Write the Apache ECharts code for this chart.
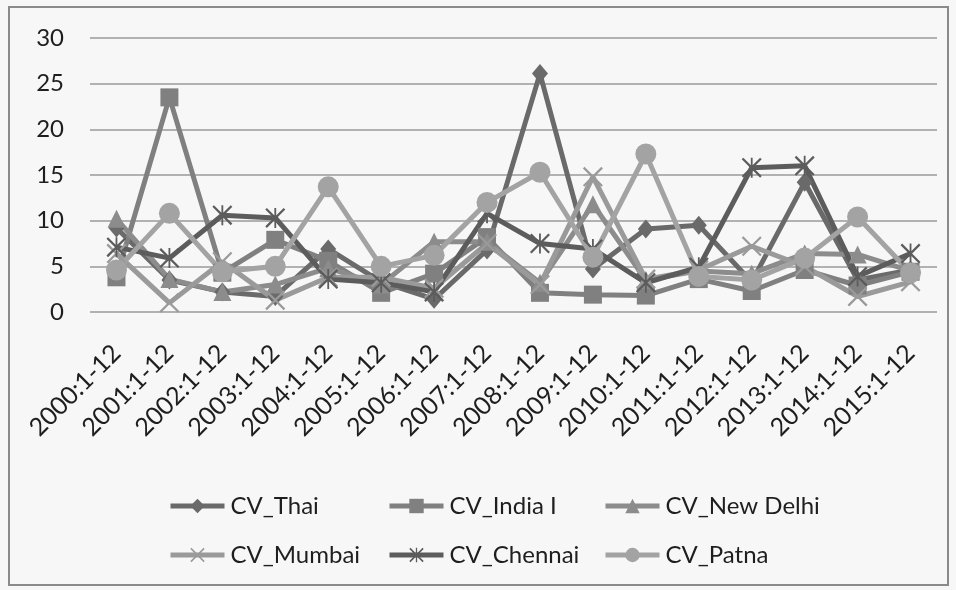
<!DOCTYPE html>
<html>
<head>
<meta charset="utf-8">
<style>
  html, body { margin: 0; padding: 0; background: #f7f7f7; }
  #chart { width: 956px; height: 590px; }
</style>
<script src="https://cdn.jsdelivr.net/npm/echarts@6/dist/echarts.min.js"></script>
</head>
<body>
<div id="chart"></div>
<script>
// ---- Data ----
var categories = ['2000:1-12','2001:1-12','2002:1-12','2003:1-12','2004:1-12','2005:1-12','2006:1-12','2007:1-12',
                  '2008:1-12','2009:1-12','2010:1-12','2011:1-12','2012:1-12','2013:1-12','2014:1-12','2015:1-12'];
var seriesNames = ['CV_Thai','CV_India I','CV_New Delhi','CV_Mumbai','CV_Chennai','CV_Patna'];
var cvThai     = [9.2, 3.5, 2.2, 1.7, 6.9, 3.3, 1.4, 6.8, 26.1, 4.7, 9.1, 9.5, 3.3, 14.2, 3.5, 4.6];
var cvIndia    = [3.8, 23.5, 4.3, 7.9, 5.6, 2.1, 4.2, 8.2, 2.1, 1.9, 1.8, 3.6, 2.3, 4.6, 2.9, 4.4];
var cvNewDelhi = [10.2, 3.6, 2.2, 3.0, 4.8, 3.0, 7.7, 7.7, 3.2, 11.8, 3.5, 4.5, 4.2, 6.4, 6.3, 4.5];
var cvMumbai   = [6.4, 1.0, 5.5, 1.3, 3.8, 3.8, 2.6, 7.5, 3.0, 14.8, 3.6, 4.6, 7.2, 5.0, 1.7, 3.3];
var cvChennai  = [7.1, 5.9, 10.6, 10.3, 3.6, 3.2, 2.2, 10.8, 7.5, 6.9, 3.2, 4.9, 15.8, 16.0, 3.9, 6.4];
var cvPatna    = [4.6, 10.8, 4.4, 5.0, 13.7, 5.0, 6.2, 12.0, 15.3, 6.0, 17.3, 3.9, 3.5, 5.9, 10.4, 4.3];
var yTicks = [0, 5, 10, 15, 20, 25, 30];

// ---- Styles ----
var FONT = 'Lato';
var colors = ['#6a6a6a', '#808080', '#8c8c8c', '#9a9a9a', '#5c5c5c', '#a3a3a3'];
var X_PATH = 'path://M0,0.8L0.8,0L10,9.2L9.2,10Z M9.2,0L10,0.8L0.8,10L0,9.2Z';
var STAR_PATH = 'path://M0,0.8L0.8,0L10,9.2L9.2,10Z M9.2,0L10,0.8L0.8,10L0,9.2Z M4.55,0L5.45,0L5.45,10L4.55,10Z';
var symbols = ['diamond', 'rect', 'triangle', X_PATH, STAR_PATH, 'circle'];
var symbolSizes = [[16, 19], 18, 18, 20, 20, 21];
var dataArrays = [cvThai, cvIndia, cvNewDelhi, cvMumbai, cvChennai, cvPatna];

var series = seriesNames.map(function (name, i) {
  return {
    name: name,
    type: 'line',
    data: dataArrays[i],
    symbol: symbols[i],
    symbolSize: symbolSizes[i],
    showAllSymbol: true,
    lineStyle: { color: colors[i], width: 5 },
    itemStyle: { color: colors[i] },
    emphasis: { disabled: true },
    animation: false
  };
});

// legend placement: 3 columns x 2 rows
var legendCols = [168, 387, 603];
var legendRows = [494, 543];
var legends = seriesNames.map(function (name, i) {
  return {
    data: [name],
    left: legendCols[i % 3],
    top: legendRows[Math.floor(i / 3)],
    itemWidth: 54,
    itemHeight: 18,
    itemGap: 0,
    padding: 0,
    lineStyle: { width: 5 },
    textStyle: { fontFamily: FONT, fontSize: 24, color: '#1e1e1e', padding: [0, 0, 0, 1] },
    selectedMode: false
  };
});

var chart = echarts.init(document.getElementById('chart'), null, { renderer: 'canvas' });
chart.setOption({
  backgroundColor: '#f7f7f7',
  animation: false,
  color: colors,
  graphic: [{
    type: 'rect',
    shape: { x: 9, y: 7, width: 939, height: 578 },
    style: { fill: 'none', stroke: '#8a8a8a', lineWidth: 2 },
    silent: true
  }],
  legend: legends,
  grid: { left: 90, right: 19, top: 38, bottom: 278, containLabel: false },
  xAxis: {
    type: 'category',
    data: categories,
    boundaryGap: true,
    axisLine: { show: false },
    axisTick: { show: false },
    axisLabel: {
      rotate: 45,
      interval: 0,
      margin: 37,
      fontFamily: FONT,
      fontSize: 25,
      color: '#1e1e1e'
    },
    splitLine: { show: false }
  },
  yAxis: {
    type: 'value',
    min: yTicks[0],
    max: yTicks[yTicks.length - 1],
    interval: yTicks[1] - yTicks[0],
    axisLine: { show: false },
    axisTick: { show: false },
    axisLabel: {
      margin: 26,
      fontFamily: FONT,
      fontSize: 24,
      color: '#1e1e1e'
    },
    splitLine: { lineStyle: { color: '#9a9a9a', width: 1.5 } }
  },
  series: series
});
</script>
</body>
</html>
